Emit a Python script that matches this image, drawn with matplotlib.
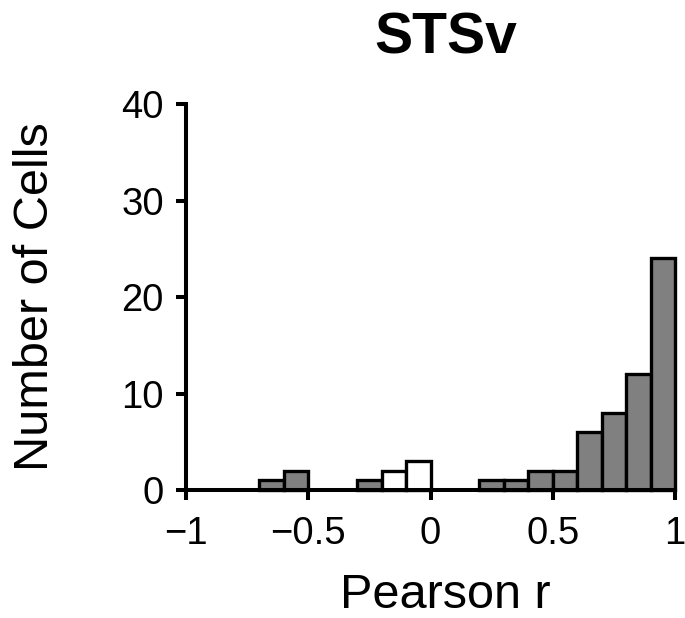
import matplotlib
matplotlib.use("Agg")
import matplotlib.pyplot as plt

plt.rcParams["font.family"] = ["Liberation Sans", "DejaVu Sans"]

# histogram of Pearson r, bins of 0.1 (only non-empty bins listed)
bin_left = [-0.7, -0.6, -0.3, -0.2, -0.1, 0.2, 0.3, 0.4, 0.5, 0.6, 0.7, 0.8, 0.9]
counts = [1, 2, 1, 2, 3, 1, 1, 2, 2, 6, 8, 12, 24]
significant = [True, True, True, False, False, True, True, True, True, True, True, True, True]
bin_width = 0.1

x_ticks = [-1, -0.5, 0, 0.5, 1]
x_ticklabels = ["\u22121", "\u22120.5", "0", "0.5", "1"]
y_ticks = [0, 10, 20, 30, 40]

fig = plt.figure(figsize=(6.85, 6.18), dpi=100)
ax = fig.add_axes([0.2715, 0.2071, 0.714, 0.6246])

colors = ["#808080" if s else "white" for s in significant]
ax.bar(bin_left, counts, width=bin_width, align="edge", color=colors,
       edgecolor="black", linewidth=2.4, zorder=2, clip_on=False)

ax.set_xlim(-1, 1)
ax.set_ylim(0, 40)
ax.set_xticks(x_ticks)
ax.set_xticklabels(x_ticklabels)
ax.set_yticks(y_ticks)

for side in ["top", "right"]:
    ax.spines[side].set_visible(False)
for side in ["left", "bottom"]:
    ax.spines[side].set_linewidth(2.9)
    ax.spines[side].set_zorder(3)

ax.tick_params(axis="both", direction="out", length=7, width=2.9, labelsize=27.5)
ax.tick_params(axis="y", pad=9)
ax.tick_params(axis="x", pad=12)

ax.set_ylabel("Number of Cells", fontsize=35)
ax.yaxis.set_label_coords(-0.262, 0.5)

fig.text(0.65, 1 - 608 / 618, "Pearson r", fontsize=35, ha="center", va="baseline")
fig.text(0.651, 1 - 53 / 618, "STSv", fontsize=41, fontweight="bold",
         ha="center", va="baseline")

fig.savefig("out.png", dpi=100)
plt.close(fig)
